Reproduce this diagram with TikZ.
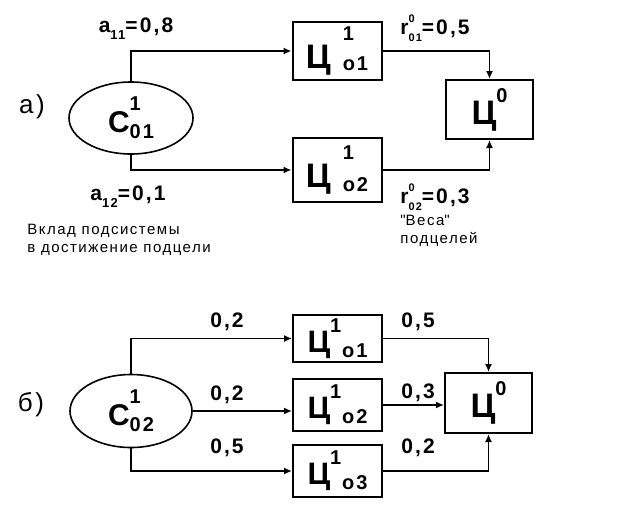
\documentclass[tikz,border=0pt]{standalone}
\usepackage{fontspec}
\setmainfont{Liberation Sans}[LetterSpace=10]
\usetikzlibrary{positioning,%
  shapes.geometric,%
  arrows.meta
}
\newcommand{\fs}[1]{\fontsize{#1}{#1}\selectfont}
\newcommand{\hi}[3]{\raisebox{#1}{\fs{#2}#3}}
\newcommand{\lo}[3]{\raisebox{-#1}{\fs{#2}#3}}

\begin{document}
\begin{tikzpicture}
                    [
                        x=0.5pt, y=-0.5pt,
                        goal/.style={draw,ellipse,line width=0.8pt,inner sep=0pt,font=\bfseries},
                        box/.style={draw,rectangle,line width=1pt,inner sep=0pt,minimum width=44.5pt,font=\bfseries},
                        wgt/.style={inner sep=0pt,font=\bfseries\fs{10.5}},
                        note/.style={inner sep=0pt,anchor=north west,align=left,font=\fontsize{7.5}{9}\selectfont},
                        part/.style={inner sep=0pt,font=\fs{13}},
                        link/.style={line width=0.75pt,-{Latex[length=4pt,width=3.5pt]}}
                    ]

                    \useasboundingbox (0,0) rectangle (626,510);

                    % а)
                    \node[part] (pa) at (32,107) {а)};
                    \node[goal,minimum width=62pt,minimum height=36pt] (c1) at (131,118)
                        {\fs{15}C\rlap{\hi{11pt}{10}{1}}\lo{3pt}{10}{01}};
                    \node[box,minimum height=29pt] (a1) at (337,51)
                        {\fs{17}Ц\hspace{6pt}\rlap{\hi{14pt}{10}{1}}\lo{1pt}{10}{о1}};
                    \node[box,minimum height=32pt] (a2) at (337,170)
                        {\fs{17}Ц\hspace{6pt}\rlap{\hi{14pt}{10}{1}}\lo{2pt}{10}{о2}};
                    \node[box,minimum width=43.5pt,minimum height=29.5pt] (a0) at (489.5,109.5)
                        {\fs{17}Ц\hi{11pt}{10}{0}};

                    \draw[link] (c1.north) |- (a1.west);
                    \draw[link] (c1.south) |- (a2.west);
                    \draw[link] (a1.east) -| (a0.north);
                    \draw[link] (a2.east) -| (a0.south);

                    \node[wgt] (w11) at (136,29) {a\lo{3.5pt}{6.5}{11}=0,8};
                    \node[wgt] (w12) at (128,197) {a\lo{3.5pt}{6.5}{12}=0,1};
                    \node[wgt] (r01) at (435,28) {r\rlap{\hi{6pt}{5.5}{0}}\lo{3.5pt}{5.5}{01}=0,5};
                    \node[wgt] (r02) at (435,197) {r\rlap{\hi{6pt}{5.5}{0}}\lo{3.5pt}{5.5}{02}=0,3};
                    \node[note] (vklad) at (27,224) {Вклад подсистемы\\в достижение подцели};
                    \node[note] (vesa) at (400,215) {\textquotedbl Веса\textquotedbl\\подцелей};

                    % б)
                    \node[part] (pb) at (31,405) {б)};
                    \node[goal,minimum width=61pt,minimum height=36.5pt] (c2) at (131,411)
                        {\fs{15}C\rlap{\hi{11pt}{10}{1}}\lo{3pt}{10}{02}};
                    \node[box,minimum height=23.5pt] (b1) at (337.5,338.5)
                        {\fs{15.5}Ц\rlap{\hi{10pt}{10}{1}}\hspace{6pt}\lo{2.5pt}{10}{о1}};
                    \node[box,minimum height=26pt] (b2) at (337.5,405)
                        {\fs{15.5}Ц\rlap{\hi{10pt}{10}{1}}\hspace{6pt}\lo{2.5pt}{10}{о2}};
                    \node[box,minimum height=26pt] (b3) at (337.5,471)
                        {\fs{15.5}Ц\rlap{\hi{10pt}{10}{1}}\hspace{6pt}\lo{2.5pt}{10}{о3}};
                    \node[box,minimum width=43.5pt,minimum height=30pt] (b0) at (488.5,403)
                        {\fs{17}Ц\hi{11pt}{10}{0}};

                    \draw[link] (c2.north) |- (b1.west);
                    \draw[link] (c2.east) -- (c2.east -| b2.west);
                    \draw[link] (c2.south) |- (b3.west);
                    \draw[link] (b1.east) -| (b0.north);
                    \draw[link] (b2.east) -- (b2.east -| b0.west);
                    \draw[link] (b3.east) -| (b0.south);

                    \node[wgt] (w21) at (227,322) {0,2};
                    \node[wgt] (w22) at (227,395) {0,2};
                    \node[wgt] (w23) at (227,448) {0,5};
                    \node[wgt] (r21) at (418,322) {0,5};
                    \node[wgt] (r22) at (418,393) {0,3};
                    \node[wgt] (r23) at (418,448) {0,2};
                \end{tikzpicture}
\end{document}
